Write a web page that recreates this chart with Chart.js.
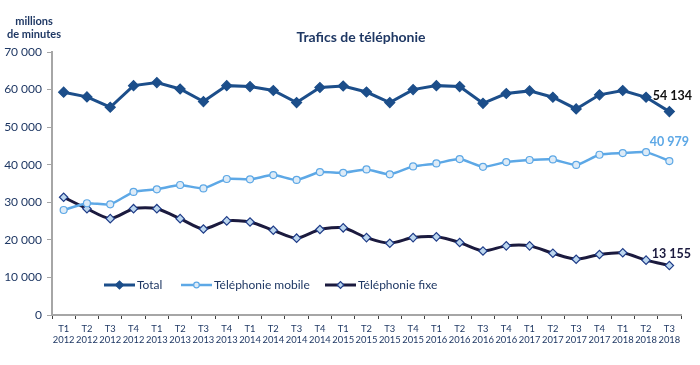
<!DOCTYPE html>
<html>
<head>
<meta charset="utf-8">
<script src="https://cdn.jsdelivr.net/npm/chart.js@4.4.0/dist/chart.umd.min.js"></script>
<style>
  html,body{margin:0;padding:0;background:#fff;}
  #wrap{position:relative;width:700px;height:365px;}
</style>
</head>
<body>
<div id="wrap"><canvas id="c" width="700" height="365"></canvas></div>
<script>
// trafics de téléphonie, millions de minutes
const quarters = ["T1","T2","T3","T4","T1","T2","T3","T4","T1","T2","T3","T4","T1","T2","T3","T4","T1","T2","T3","T4","T1","T2","T3","T4","T1","T2","T3"];
const years = ["2012","2012","2012","2012","2013","2013","2013","2013","2014","2014","2014","2014","2015","2015","2015","2015","2016","2016","2016","2016","2017","2017","2017","2017","2018","2018","2018"];
const total = [59300,58050,55300,61050,61850,60150,56800,61050,60800,59750,56550,60550,60950,59350,56550,60000,61050,60800,56350,58950,59650,57950,54850,58600,59750,57950,54134];
const mobile = [27950,29750,29450,32750,33450,34600,33700,36200,36100,37250,35950,38050,37850,38750,37450,39550,40350,41500,39450,40700,41250,41400,39950,42650,43100,43350,40979];
const fixe = [31350,28300,25650,28300,28300,25650,22900,25050,24750,22550,20450,22750,23200,20600,19100,20600,20800,19300,17050,18400,18400,16450,14850,16100,16550,14600,13155];
const yTicks = [0,10000,20000,30000,40000,50000,60000,70000];

const NAVY = "#1F3864";
const FONT = "Lato, 'Open Sans', sans-serif";
const fmt = v => String(v).replace(/\B(?=(\d{3})+(?!\d))/g, " ");

const series = [
  {label:"Total", data:total, line:"#1C4E8A", fill:"#1C4E8A", border:"#1C4E8A", style:"rectRot", r:5, w:3, t:0},
  {label:"Téléphonie mobile", data:mobile, line:"#5DA8E6", fill:"#DDEBF7", border:"#5DA8E6", style:"circle", r:3.5, w:2.5, t:0.2},
  {label:"Téléphonie fixe", data:fixe, line:"#1B1A3E", fill:"#BDD7EE", border:"#1F3C88", style:"rectRot", r:4.2, w:3, t:0.25},
];

const endLabels = [
  {i:0, color:"#111111", dx:3, dy:-16},
  {i:1, color:"#5DA8E6", dx:0, dy:-19},
  {i:2, color:"#1B1A3E", dx:2, dy:-12},
];

const extras = {
  id:"extras",
  afterDraw(chart){
    const ctx = chart.ctx;
    ctx.save();
    // title
    ctx.fillStyle = NAVY;
    ctx.font = "bold 14px " + FONT;
    ctx.textAlign = "center"; ctx.textBaseline = "middle";
    ctx.fillText("Trafics de téléphonie", 361, 37);
    // y axis title
    ctx.font = "bold 11px " + FONT;
    ctx.fillText("millions", 34, 21);
    ctx.fillText("de minutes", 34, 34);
    // end labels
    ctx.font = "bold 12.5px " + FONT;
    endLabels.forEach(l => {
      const pts = chart.getDatasetMeta(l.i).data;
      const p = pts[pts.length - 1];
      ctx.fillStyle = l.color;
      ctx.fillText(fmt(series[l.i].data[series[l.i].data.length - 1]), p.x + l.dx, p.y + l.dy);
    });
    // legend inside plot
    const ly = 285;
    const items = [[104, series[0]], [181, series[1]], [325, series[2]]];
    ctx.font = "12px " + FONT;
    ctx.textAlign = "left";
    items.forEach(([x, s]) => {
      ctx.strokeStyle = s.line; ctx.lineWidth = s.w;
      ctx.beginPath(); ctx.moveTo(x, ly); ctx.lineTo(x + 31, ly); ctx.stroke();
      ctx.fillStyle = s.fill; ctx.strokeStyle = s.border; ctx.lineWidth = 1.2;
      Chart.helpers.drawPoint(ctx, {pointStyle:s.style, radius:s.r * 0.8, rotation:0, borderWidth:1.2}, x + 15.5, ly);
      ctx.fillStyle = NAVY;
      ctx.fillText(s.label, x + 33, ly);
    });
    ctx.restore();
  }
};

new Chart(document.getElementById("c"), {
  type:"line",
  data:{
    labels: quarters.map((q, i) => [q, years[i]]),
    datasets: series.map(s => ({
      label:s.label, data:s.data,
      borderColor:s.line, borderWidth:s.w, tension:s.t,
      pointStyle:s.style, pointRadius:s.r, pointBackgroundColor:s.fill,
      pointBorderColor:s.border, pointBorderWidth:1.2,
    }))
  },
  options:{
    responsive:false, animation:false,
    layout:{padding:{top:52, right:19, bottom:14, left:0}},
    plugins:{legend:{display:false}, tooltip:{enabled:false}, title:{display:false}},
    scales:{
      x:{
        offset:true,
        grid:{offset:true, drawOnChartArea:false, tickLength:4, color:"#404040", lineWidth:1},
        border:{color:"#A6A6A6", width:2},
        ticks:{color:NAVY, font:{family:FONT, size:9.4}, maxRotation:0, autoSkip:false, padding:4},
        afterFit(s){ s.height = 36; }
      },
      y:{
        min:0, max:70000,
        afterBuildTicks(s){ s.ticks = yTicks.map(v => ({value:v})); },
        grid:{drawOnChartArea:false, tickLength:5, color:"#A6A6A6", lineWidth:1},
        border:{color:"#A6A6A6", width:2},
        ticks:{color:NAVY, font:{family:FONT, size:12}, padding:5, callback:v => fmt(v)},
        afterFit(s){ s.width = 52; }
      }
    }
  },
  plugins:[extras]
});
</script>
</body>
</html>
